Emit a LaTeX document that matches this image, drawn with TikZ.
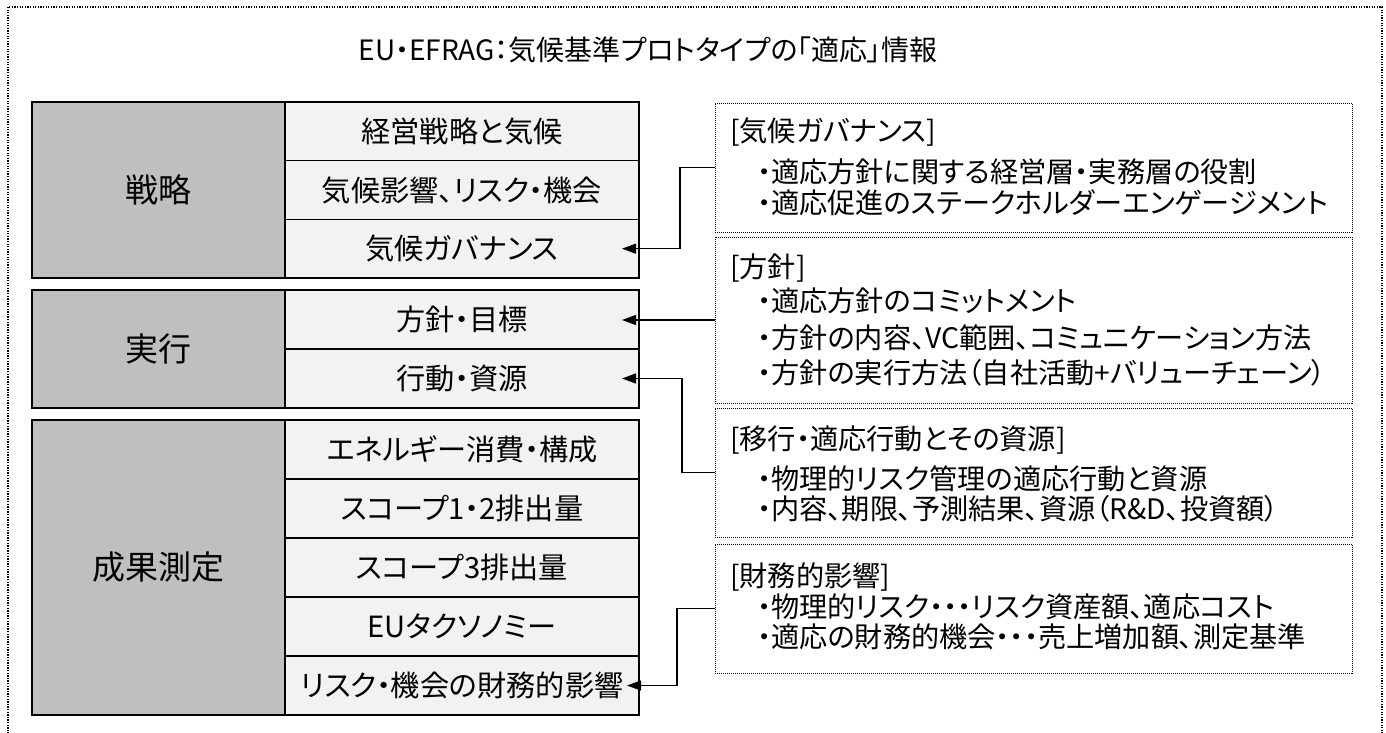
\documentclass[tikz,border=0pt]{standalone}
\usepackage{fontspec}
\setmainfont{Noto Sans CJK JP}[RawFeature=+palt]
\usetikzlibrary{arrows.meta}
\definecolor{catgray}{HTML}{BFBFBF}
\definecolor{itemgray}{HTML}{F2F2F2}
\begin{document}
\begin{tikzpicture}[x=1pt,y=-1pt,
  cat/.style={draw=black, line width=1.2pt, fill=catgray, minimum width=253pt, inner sep=0pt, outer sep=0pt, font=\fontsize{33}{37}\selectfont},
  item/.style={draw=black, line width=1.2pt, fill=itemgray, minimum width=354pt, inner sep=0pt, outer sep=0pt, font=\fontsize{29.2}{33}\selectfont},
  note/.style={draw=black, dash pattern=on 1pt off 1pt, line width=0.9pt, minimum width=637pt, inner sep=0pt, outer sep=0pt},
  ntext/.style={anchor=west, inner sep=0pt, font=\fontsize{28.2}{32}\selectfont},
  conn/.style={line width=1.2pt, -{Triangle[length=14pt,width=10pt]}},
  outerframe/.style={draw=black, line width=1.3pt, dash pattern=on 1.3pt off 1.3pt}]
\useasboundingbox (0,0) rectangle (1386,733);
\draw[outerframe] (8,7) rectangle (1382,748);

\node[font=\fontsize{28}{32}\selectfont] (title) at (648,50) {EU・EFRAG：気候基準プロトタイプの「適応」情報};

% Strategy
\node[cat, minimum height=176pt] (c1) at (158.5,190) {戦略};
\node[item, minimum height=58.67pt] (a1) at (462,131.33) {経営戦略と気候};
\node[item, minimum height=58.67pt] (a2) at (462,190) {気候影響、リスク・機会};
\node[item, minimum height=58.67pt] (a3) at (462,248.67) {気候ガバナンス};

% Execution
\node[cat, minimum height=118pt] (c2) at (158.5,349) {実行};
\node[item, minimum height=59pt] (b1) at (462,319.5) {方針・目標};
\node[item, minimum height=59pt] (b2) at (462,378.5) {行動・資源};

% Measurement
\node[cat, minimum height=295pt] (c3) at (158.5,567.5) {成果測定};
\node[item, minimum height=59pt] (d1) at (462,449.5) {エネルギー消費・構成};
\node[item, minimum height=59pt] (d2) at (462,508.5) {スコープ1・2排出量};
\node[item, minimum height=59pt] (d3) at (462,567.5) {スコープ3排出量};
\node[item, minimum height=59pt] (d4) at (462,626.5) {EUタクソノミー};
\node[item, minimum height=59pt] (d5) at (462,685.5) {リスク・機会の財務的影響};

% Notes
\node[note, minimum height=129pt] (n1) at (1033.5,167.5) {};
\node[note, minimum height=166pt] (n2) at (1033.5,320) {};
\node[note, minimum height=129pt] (n3) at (1033.5,472.5) {};
\node[note, minimum height=129pt] (n4) at (1033.5,608.5) {};

\node[ntext] (n1h) at (730,132) {[気候ガバナンス]};
\node[ntext] (n1a) at (757,172) {・適応方針に関する経営層・実務層の役割};
\node[ntext] (n1b) at (757,203) {・適応促進のステークホルダーエンゲージメント};

\node[ntext] (n2h) at (730,268) {[方針]};
\node[ntext] (n2a) at (757,301) {・適応方針のコミットメント};
\node[ntext] (n2b) at (757,338) {・方針の内容、VC範囲、コミュニケーション方法};
\node[ntext] (n2c) at (757,373) {・方針の実行方法（自社活動+バリューチェーン）};

\node[ntext] (n3h) at (730,440) {[移行・適応行動とその資源]};
\node[ntext] (n3a) at (757,479) {・物理的リスク管理の適応行動と資源};
\node[ntext] (n3b) at (757,509) {・内容、期限、予測結果、資源（R\&D、投資額）};

\node[ntext] (n4h) at (730,577) {[財務的影響]};
\node[ntext] (n4a) at (757,607) {・物理的リスク・・・リスク資産額、適応コスト};
\node[ntext] (n4b) at (757,637) {・適応の財務的機会・・・売上増加額、測定基準};

% Connectors
\draw[conn] (n1.west) -- ++(-35,0) |- ([xshift=-17pt]a3.east);
\draw[conn] (n2.west) -- ([xshift=-17pt]n2.west -| b1.east);
\draw[conn] (n3.west) -- ++(-33,0) |- ([xshift=-17pt]b2.east);
\draw[conn] (n4.west) -- ++(-38,0) |- ([xshift=-12pt]d5.east);
\end{tikzpicture}
\end{document}
